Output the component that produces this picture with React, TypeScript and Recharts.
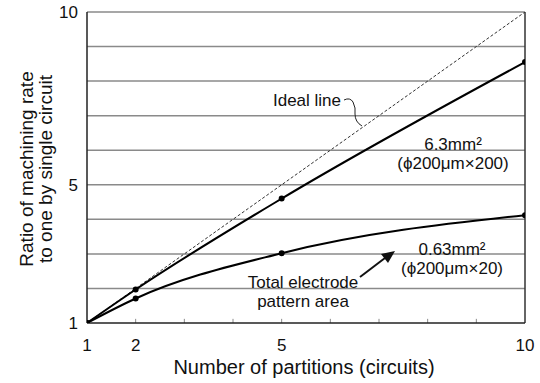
import { LineChart, Line, XAxis, YAxis, ReferenceLine } from "recharts";

// values
const partitions = [1, 2, 5, 10];
const rateLarge = [1, 1.97, 4.6, 8.55]; // 6.3mm2 (φ200µm×200)
const rateSmall = [1, 1.71, 3.02, 4.12]; // 0.63mm2 (φ200µm×20)
const idealPartitions = [1, 10];
const idealRate = [1, 10];

const xTicks = [1, 2, 5, 10];
const xMinor = [2, 3, 4, 5, 6, 7, 8, 9];
const yTicks = [1, 5, 10];
const yGrid = [2, 3, 4, 5, 6, 7, 8, 9, 10];

const data = partitions.map((n, i) => ({
  n,
  large: rateLarge[i],
  small: rateSmall[i],
}));
const idealData = idealPartitions.map((n, i) => ({ n, ideal: idealRate[i] }));

const FONT = "'Liberation Sans', Arial, Helvetica, sans-serif";

export default function App() {
  return (
    <div
      style={{
        position: "fixed",
        left: 0,
        top: 0,
        width: 540,
        height: 383,
        background: "#fff",
        fontFamily: FONT,
      }}
    >
      <LineChart
        width={540}
        height={383}
        data={data}
        margin={{ top: 12, right: 15, bottom: 0, left: 0 }}
      >
        {yGrid.map((v) => (
          <ReferenceLine key={"g" + v} y={v} stroke="#8a8a8a" strokeWidth={1.5} />
        ))}
        {xMinor.map((v) => (
          <ReferenceLine
            key={"m" + v}
            segment={[
              { x: v, y: 1 },
              { x: v, y: 1.12 },
            ]}
            stroke="#8a8a8a"
          />
        ))}
        <ReferenceLine x={10} stroke="#333" strokeWidth={1.5} />
        <XAxis
          dataKey="n"
          type="number"
          domain={[1, 10]}
          ticks={xTicks}
          height={60}
          tickLine={false}
          tickSize={0}
          tickMargin={16}
          axisLine={{ stroke: "#222", strokeWidth: 1.5 }}
          tick={{ fill: "#111", fontSize: 17, fontFamily: FONT }}
          allowDataOverflow
        />
        <YAxis
          type="number"
          domain={[1, 10]}
          ticks={yTicks}
          width={87}
          tickLine={false}
          tickSize={0}
          tickMargin={9}
          axisLine={{ stroke: "#222", strokeWidth: 1.5 }}
          tick={{ fill: "#111", fontSize: 17, fontFamily: FONT }}
          allowDataOverflow
        />
        <Line
          data={idealData}
          dataKey="ideal"
          type="linear"
          stroke="#333"
          strokeWidth={1}
          strokeDasharray="3 2"
          dot={false}
          isAnimationActive={false}
        />
        <Line
          dataKey="large"
          type="monotone"
          stroke="#000"
          strokeWidth={2}
          dot={{ r: 2, fill: "#000", stroke: "#000" }}
          isAnimationActive={false}
        />
        <Line
          dataKey="small"
          type="monotone"
          stroke="#000"
          strokeWidth={2}
          dot={{ r: 2, fill: "#000", stroke: "#000" }}
          isAnimationActive={false}
        />
      </LineChart>

      {/* titles and annotations */}
      <svg
        width={540}
        height={383}
        style={{ position: "absolute", left: 0, top: 0, pointerEvents: "none" }}
        fontFamily={FONT}
        fill="#111"
      >
        <text x={304} y={374} fontSize={20} textAnchor="middle">
          Number of partitions (circuits)
        </text>
        <text
          transform="translate(37,169) rotate(-90)"
          fontSize={19}
          textAnchor="middle"
        >
          <tspan x={0} y={-4}>Ratio of machining rate</tspan>
          <tspan x={0} y={15}>to one by single circuit</tspan>
        </text>

        <text x={307} y={106} fontSize={17} textAnchor="middle">
          Ideal line
        </text>
        <path
          d="M344 100 q6 -3 9 2 q3 6 2 12 q0 8 7 12"
          fill="none"
          stroke="#222"
          strokeWidth={1}
        />

        <text x={453} y={150} fontSize={17} textAnchor="middle">
          6.3mm²
        </text>
        <text x={453} y={169} fontSize={17} textAnchor="middle">
          (ϕ200μm×200)
        </text>

        <text x={452} y={255} fontSize={17} textAnchor="middle">
          0.63mm²
        </text>
        <text x={452} y={274} fontSize={17} textAnchor="middle">
          (ϕ200μm×20)
        </text>

        <text x={303} y={288} fontSize={17} textAnchor="middle">
          Total electrode
        </text>
        <text x={303} y={307} fontSize={17} textAnchor="middle">
          pattern area
        </text>
        <line x1={360} y1={277} x2={385} y2={258} stroke="#111" strokeWidth={2} />
        <polygon points="395,251 381,254 388,263" fill="#111" />
      </svg>
    </div>
  );
}
